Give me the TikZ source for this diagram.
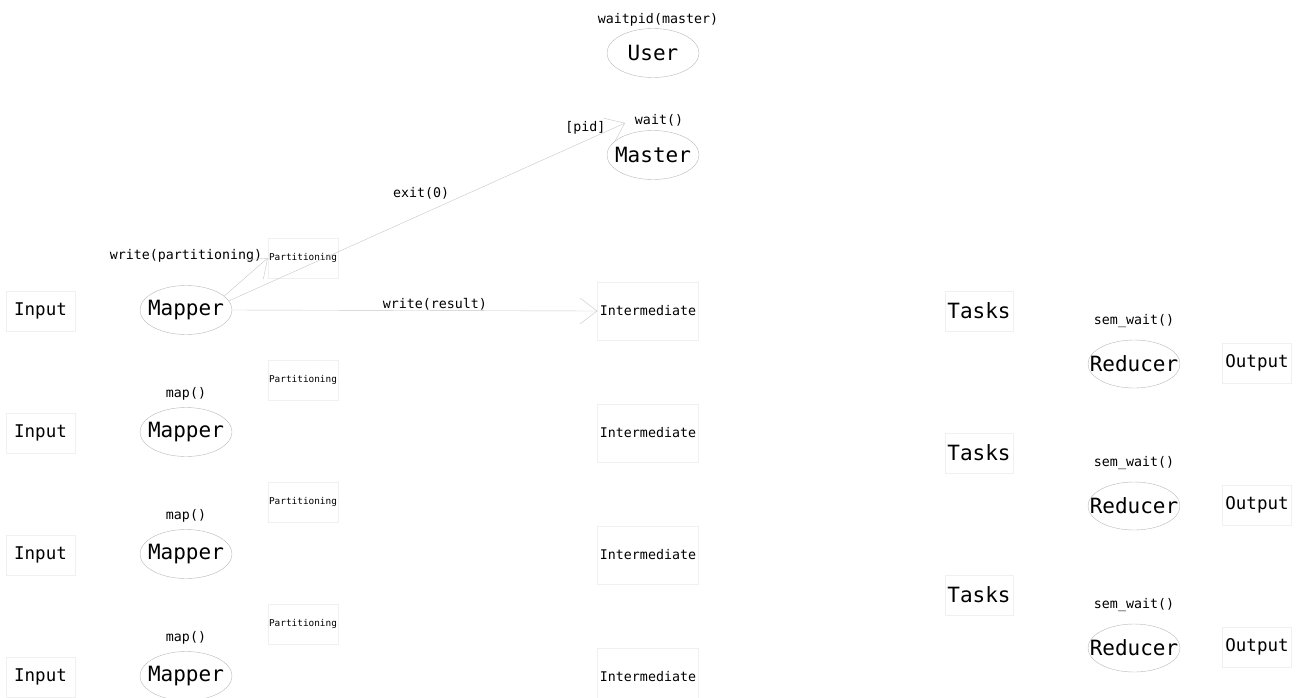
\documentclass[tikz,border=0pt]{standalone}
\usepackage{fontspec}
\setmonofont{DejaVu Sans Mono}
\usetikzlibrary{shapes.geometric,arrows.meta}
\tikzset{ proc/.style = { ellipse % process
        , draw = gray!55
        , thin
        , inner sep = 0pt
        , minimum width = 92pt
        , minimum height = 49pt
        , font = \ttfamily\fontsize{21}{24}\selectfont
        , execute at begin node = {\hbox to 0pt\bgroup\hss}
        , execute at end node = {\hss\egroup}
        }
        , store/.style = { rectangle % data box
        , draw = gray!12
        , thin
        , inner sep = 0pt
        , minimum width = 69pt
        , minimum height = 40pt
        , font = \ttfamily\fontsize{17.5}{20}\selectfont
        }
        , lbl/.style = { inner sep = 0pt % call name
        , font = \ttfamily\fontsize{13.3}{16}\selectfont
        }
        }

\begin{document}
\begin{tikzpicture}[x=1pt, y=-1pt,
        part_style/.style={store,minimum width=70pt,font=\ttfamily\fontsize{9.4}{11}\selectfont},
        mid_style/.style={store,minimum width=101pt,minimum height=58pt,font=\ttfamily\fontsize{13.3}{16}\selectfont},
        task_style/.style={store,minimum width=68pt,font=\ttfamily\fontsize{21}{24}\selectfont},
        msg/.style={draw=gray!45, thin, -{Straight Barb[length=17pt,width=26pt]}}]
        \useasboundingbox (0,0) rectangle (1300,697);

        \node [proc,label={[lbl,label distance=2pt,xshift=5pt]above:waitpid(master)}](user) at (653,53) {User};
        \node [proc,label={[lbl,label distance=4pt,xshift=6pt]above:wait()}](master) at (653,155) {Master};
        \coordinate (pidend) at (625,123);

        \node [store](in1) at (40.5,311) {Input};
        \node [store](in2) at (40.5,433) {Input};
        \node [store](in3) at (40.5,555) {Input};
        \node [store](in4) at (40.5,677) {Input};

        \node [proc,label={[lbl,label distance=23pt]above:write(partitioning)}](m1) at (186,310) {Mapper};
        \node [proc,label={[lbl,label distance=7pt]above:map()}](m2) at (186,432) {Mapper};
        \node [proc,label={[lbl,label distance=7pt]above:map()}](m3) at (186,554) {Mapper};
        \node [proc,label={[lbl,label distance=7pt]above:map()}](m4) at (186,676) {Mapper};

        \node [part_style](p1) at (303,258) {Partitioning};
        \node [part_style](p2) at (303,380) {Partitioning};
        \node [part_style](p3) at (303,502) {Partitioning};
        \node [part_style](p4) at (303,624) {Partitioning};

        \node [mid_style](i1) at (648,311) {Intermediate};
        \node [mid_style](i2) at (648,433) {Intermediate};
        \node [mid_style](i3) at (648,555) {Intermediate};
        \node [mid_style](i4) at (648,677) {Intermediate};

        \node [task_style](t1) at (979,311) {Tasks};
        \node [task_style](t2) at (979,453) {Tasks};
        \node [task_style](t3) at (979,595) {Tasks};

        \node [proc,minimum height=48pt,label={[lbl,label distance=12pt]above:sem\_wait()}](r1) at (1134,364) {Reducer};
        \node [proc,minimum height=48pt,label={[lbl,label distance=12pt]above:sem\_wait()}](r2) at (1134,506) {Reducer};
        \node [proc,minimum height=48pt,label={[lbl,label distance=12pt]above:sem\_wait()}](r3) at (1134,648) {Reducer};

        \node [store](o1) at (1257,363) {Output};
        \node [store](o2) at (1257,505) {Output};
        \node [store](o3) at (1257,647) {Output};

        % first mapper: partitions, result and exit status
        \draw [msg] (m1.20) -- (p1.west);
        \draw [msg] (m1.12) -- node [lbl,pos=0.485,above=15pt] {exit(0)} node [lbl,pos=0.9,above=6pt] {[pid]} (pidend);
        \draw [msg] (m1.east) -- node [lbl,pos=0.555,above=0pt] {write(result)} (i1.west);
\end{tikzpicture}
\end{document}
